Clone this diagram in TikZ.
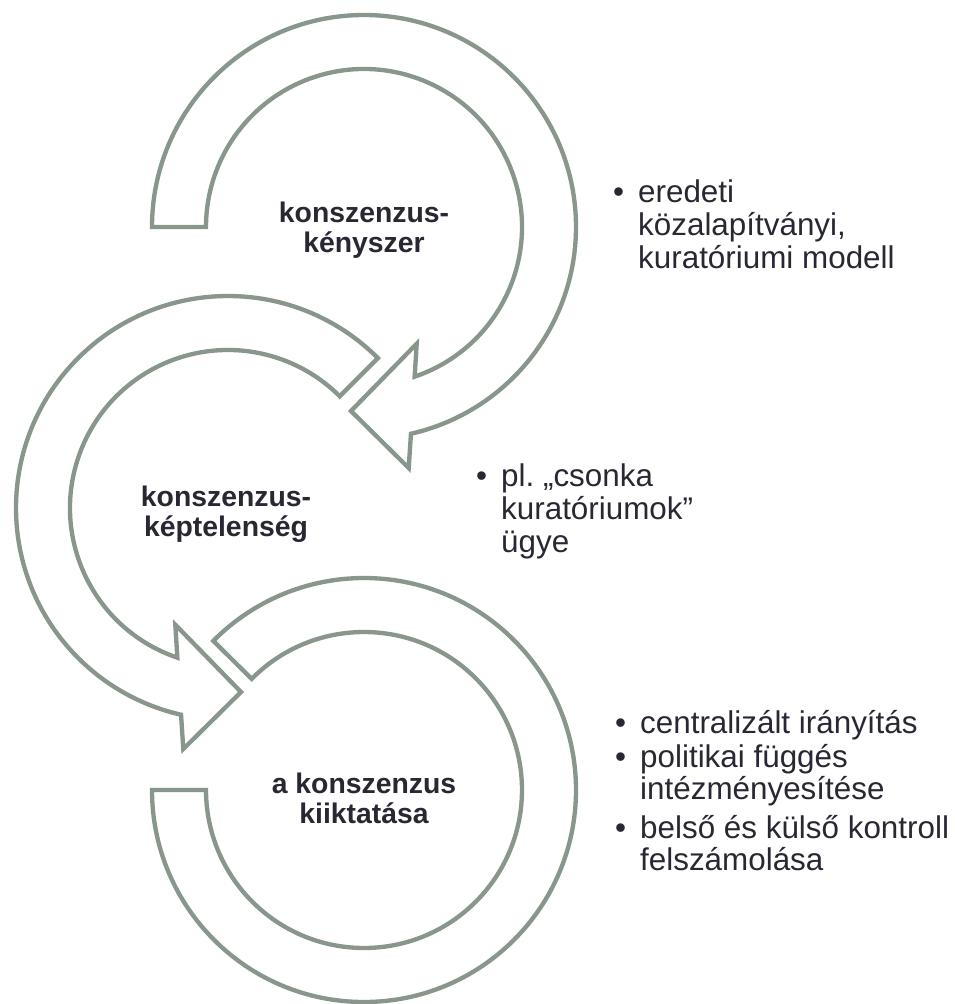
\documentclass[tikz,border=0pt]{standalone}
\usepackage{fontspec}
\setmainfont{Liberation Sans}
\usepackage{tikz}
\frenchspacing
\definecolor{ringgray}{RGB}{136,150,140}
\definecolor{txtdark}{RGB}{40,40,52}
\newcommand{\pontjel}{\makebox[21.3pt][l]{\textbullet}}

\begin{document}
\begin{tikzpicture}[x=0.3mm, y=-0.3mm,
    ring/.style={draw=ringgray, line width=1.3mm, fill=white, line join=miter},
    lbl/.style={font=\fontsize{24.2pt}{25.6pt}\selectfont\bfseries, text=txtdark, align=center, inner sep=0pt},
    bul/.style={font=\fontsize{26.8pt}{28.2pt}\selectfont, text=txtdark, anchor=base west, inner sep=0pt},
    bulsuru/.style={bul, font=\fontsize{26.8pt}{26pt}\selectfont}]

    \useasboundingbox (0,0) rectangle (955,1004);

    \coordinate (c1) at (364,227);
    \coordinate (c2) at (228,508);
    \coordinate (c3) at (364,790);

    % felso nyil
    \draw[ring] ([shift={(180:212)}]c1) arc[start angle=180, end angle=437.2, radius=212]
        -- ([shift={(44.7,241)}]c1) -- ([shift={(-13,184)}]c1) -- ([shift={(52.7,116.7)}]c1)
        -- ([shift={(431.3:158)}]c1) arc[start angle=431.3, end angle=180, radius=158] -- cycle;

    % kozepso nyil
    \draw[ring] ([shift={(-45:212)}]c2) arc[start angle=-45, end angle=-257.2, radius=212]
        -- ([shift={(-44.7,241)}]c2) -- ([shift={(13,184)}]c2) -- ([shift={(-52.7,116.7)}]c2)
        -- ([shift={(-251.3:158)}]c2) arc[start angle=-251.3, end angle=-45, radius=158] -- cycle;

    % also gyuru
    \draw[ring] ([shift={(180:212)}]c3) arc[start angle=180, end angle=-135.3, radius=212]
        -- ([shift={(-135.3:158)}]c3) arc[start angle=-135.3, end angle=180, radius=158] -- cycle;

    \node[lbl] (kenyszer) at (364,230) {konszenzus-\\kényszer};
    \node[lbl] (kepteln) at (226,514) {konszenzus-\\képtelenség};
    \node[lbl] (kiiktat) at (364,798) {a konszenzus\\kiiktatása};

    \node[bul] (modell) at (613,202) {\begin{tabular}[t]{@{}l@{}l@{}}\pontjel & eredeti\\ & közalapítványi,\\ & kuratóriumi modell\end{tabular}};
    \node[bul] (csonka) at (476,486) {\begin{tabular}[t]{@{}l@{}l@{}}\pontjel & pl. „csonka\\ & kuratóriumok”\\ & ügye\end{tabular}};
    \node[bulsuru] (irany) at (615,733) {\begin{tabular}[t]{@{}l@{}l@{}}\pontjel & centralizált irányítás\end{tabular}};
    \node[bulsuru] (fugges) at (615,767) {\begin{tabular}[t]{@{}l@{}l@{}}\pontjel & politikai függés\\ & intézményesítése\end{tabular}};
    \node[bulsuru] (kontroll) at (615,838) {\begin{tabular}[t]{@{}l@{}l@{}}\pontjel & belső és külső kontroll\\ & felszámolása\end{tabular}};

\end{tikzpicture}
\end{document}
